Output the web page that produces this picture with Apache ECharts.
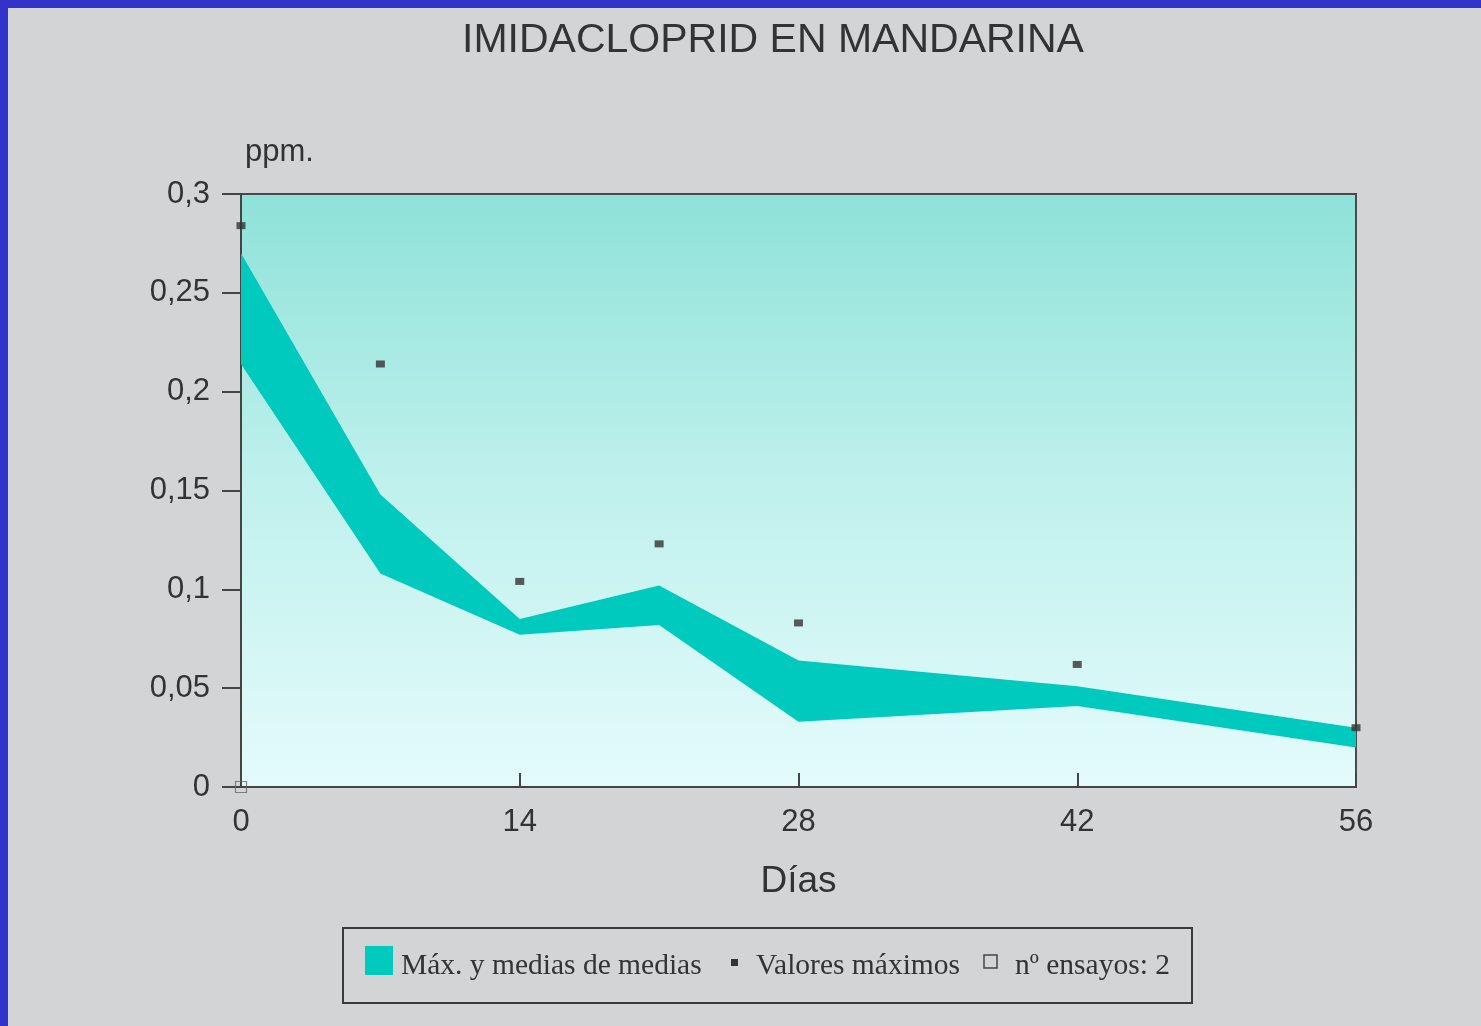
<!DOCTYPE html>
<html>
<head>
<meta charset="utf-8">
<script src="https://cdn.jsdelivr.net/npm/echarts@6/dist/echarts.min.js"></script>
<style>
html,body{margin:0;padding:0;background:#d2d4d6;}
#chart{width:1481px;height:1026px;}
</style>
</head>
<body>
<div id="chart"></div>
<script>
// ---- data ----
const days = [0, 7, 14, 21, 28, 42, 56];
const upperMeans = [0.270, 0.148, 0.085, 0.102, 0.064, 0.051, 0.030];
const lowerMeans = [0.214, 0.108, 0.077, 0.082, 0.033, 0.041, 0.020];
const maxDays = [0, 7, 14, 21, 28, 42, 56];
const maxValues = [0.284, 0.214, 0.104, 0.123, 0.083, 0.062, 0.030];
const trialPoint = [[0, 0]];
const xTicks = [0, 14, 28, 42, 56];
const yTickLabels = {0: '0', 0.05: '0,05', 0.1: '0,1', 0.15: '0,15', 0.2: '0,2', 0.25: '0,25', 0.3: '0,3'};
const legendNames = ['Máx. y medias de medias', 'Valores máximos', 'nº ensayos: 2'];

const bandColor = '#00c9bd';
const sans = 'Liberation Sans, Arial, sans-serif';
const serif = 'Liberation Serif, Times New Roman, serif';

const chart = echarts.init(document.getElementById('chart'));

const bandData = days.map((d, i) => [d, lowerMeans[i], upperMeans[i]]);
const maxData = maxDays.map((d, i) => [d, maxValues[i]]);

function fmtY(v) {
  const key = Math.round(v * 100) / 100;
  return yTickLabels[key] !== undefined ? yTickLabels[key] : String(v).replace('.', ',');
}

chart.setOption({
  backgroundColor: '#d2d4d6',
  animation: false,
  title: {
    text: 'IMIDACLOPRID EN MANDARINA',
    left: 768, top: 15, textAlign: 'center',
    textStyle: {fontFamily: sans, fontSize: 41, fontWeight: 'normal', color: '#333'}
  },
  grid: {
    left: 241, top: 194, width: 1115, height: 593,
    show: true,
    borderColor: '#4a4a4a', borderWidth: 2,
    backgroundColor: new echarts.graphic.LinearGradient(0, 0, 0, 1, [
      {offset: 0, color: '#8ee2d9'},
      {offset: 0.5, color: '#c0f1ed'},
      {offset: 1, color: '#e4fbfb'}
    ])
  },
  xAxis: {
    type: 'value', min: 0, max: 56, interval: 14,
    axisLine: {show: true, lineStyle: {color: '#444', width: 2}},
    axisTick: {show: true, inside: true, length: 14, lineStyle: {color: '#444', width: 2}},
    axisLabel: {fontFamily: sans, fontSize: 31, color: '#333', margin: 20},
    splitLine: {show: false},
    name: 'Días', nameLocation: 'middle', nameGap: 76,
    nameTextStyle: {fontFamily: sans, fontSize: 37, color: '#333'}
  },
  yAxis: {
    type: 'value', min: 0, max: 0.3, interval: 0.05,
    axisLine: {show: true, lineStyle: {color: '#444', width: 2}},
    axisTick: {show: true, inside: false, length: 19, lineStyle: {color: '#444', width: 2}},
    axisLabel: {fontFamily: sans, fontSize: 31, color: '#333', margin: 31, formatter: fmtY},
    splitLine: {show: false}
  },
  series: [
    {
      name: legendNames[0],
      type: 'custom',
      data: bandData,
      encode: {x: 0, y: [1, 2]},
      renderItem: function (params, api) {
        if (params.dataIndex !== 0) return;
        const pts = [];
        for (let i = 0; i < bandData.length; i++) pts.push(api.coord([bandData[i][0], bandData[i][2]]));
        for (let i = bandData.length - 1; i >= 0; i--) pts.push(api.coord([bandData[i][0], bandData[i][1]]));
        return {type: 'polygon', shape: {points: pts}, style: {fill: bandColor}};
      },
      z: 2
    },
    {
      name: legendNames[1],
      type: 'scatter',
      data: maxData,
      symbol: 'rect', symbolSize: [9, 7],
      itemStyle: {color: '#333'},
      z: 3
    },
    {
      name: legendNames[2],
      type: 'scatter',
      data: trialPoint,
      symbol: 'rect', symbolSize: 11,
      itemStyle: {color: 'rgba(0,0,0,0)', borderColor: '#666', borderWidth: 1.2},
      z: 4
    }
  ],
  graphic: [
    {type: 'rect', left: 0, top: 0, shape: {width: 1481, height: 8}, style: {fill: '#3333cc'}, z: 100},
    {type: 'rect', left: 0, top: 0, shape: {width: 8, height: 1026}, style: {fill: '#3333cc'}, z: 100},
    {type: 'text', left: 245, top: 137, style: {text: 'ppm.', font: '31px ' + sans, fill: '#333'}},
    {type: 'rect', shape: {x: 343, y: 928, width: 849, height: 75}, style: {fill: 'none', stroke: '#3a3a3a', lineWidth: 2}},
    {type: 'rect', shape: {x: 365, y: 946, width: 28, height: 29}, style: {fill: bandColor}},
    {type: 'text', x: 401, y: 966, style: {text: legendNames[0], font: '29.5px ' + serif, fill: '#333', verticalAlign: 'middle'}},
    {type: 'rect', shape: {x: 731, y: 959, width: 7, height: 7}, style: {fill: '#333'}},
    {type: 'text', x: 756, y: 966, style: {text: legendNames[1], font: '29.5px ' + serif, fill: '#333', verticalAlign: 'middle'}},
    {type: 'rect', shape: {x: 984, y: 955, width: 13, height: 13}, style: {fill: 'none', stroke: '#444', lineWidth: 1.5}},
    {type: 'text', x: 1015, y: 966, style: {text: legendNames[2], font: '29.5px ' + serif, fill: '#333', verticalAlign: 'middle'}}
  ]
});
</script>
</body>
</html>
